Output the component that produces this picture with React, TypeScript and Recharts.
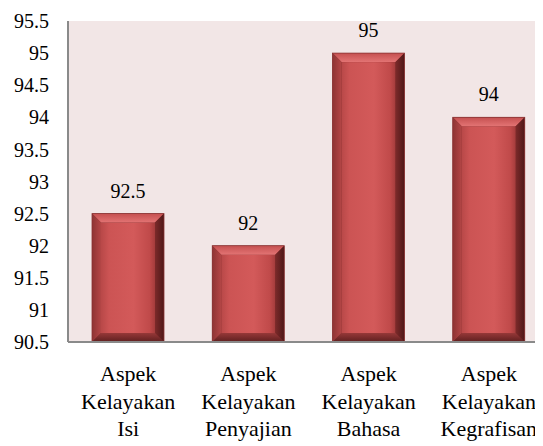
import React from 'react';
import { BarChart, Bar, XAxis, YAxis, CartesianGrid, LabelList } from 'recharts';

const categories = [
  ['Aspek', 'Kelayakan', 'Isi'],
  ['Aspek', 'Kelayakan', 'Penyajian'],
  ['Aspek', 'Kelayakan', 'Bahasa'],
  ['Aspek', 'Kelayakan', 'Kegrafisan'],
];
const values = [92.5, 92, 95, 94];
const yTicks = [90.5, 91, 91.5, 92, 92.5, 93, 93.5, 94, 94.5, 95, 95.5];

const data = categories.map((c, i) => ({ name: c.join('\n'), value: values[i] }));

const FONT = "'Liberation Serif', 'Times New Roman', Times, serif";

const BevelBar = (props: any) => {
  const { x, y, width: w, height: h } = props;
  if (!w || !h) return null;
  const b = 9;
  return (
    <g>
      <rect x={x} y={y} width={w} height={h} fill="#7a2727" />
      <rect x={x + b} y={y + b} width={w - 2 * b} height={h - 2 * b} fill="url(#faceGrad)" />
      <polygon points={`${x},${y} ${x + w},${y} ${x + w - b},${y + b} ${x + b},${y + b}`} fill="url(#topGrad)" />
      <polygon points={`${x},${y} ${x + b},${y + b} ${x + b},${y + h - b} ${x},${y + h}`} fill="url(#leftGrad)" />
      <polygon points={`${x + w},${y} ${x + w},${y + h} ${x + w - b},${y + h - b} ${x + w - b},${y + b}`} fill="url(#rightGrad)" />
      <polygon points={`${x},${y + h} ${x + b},${y + h - b} ${x + w - b},${y + h - b} ${x + w},${y + h}`} fill="url(#bottomGrad)" />
      <rect x={x} y={y} width={w} height={h} fill="none" stroke="#8a3434" strokeWidth={0.8} />
    </g>
  );
};

const XTick = (props: any) => {
  const { x, y, payload } = props;
  const lines = String(payload.value).split('\n');
  return (
    <text x={x} y={y} textAnchor="middle" fontFamily={FONT} fontSize={22} fill="#000">
      {lines.map((l, i) => (
        <tspan key={i} x={x} y={y + 31 + i * 27.5}>{l}</tspan>
      ))}
    </text>
  );
};

export default function App() {
  return (
    <div style={{ width: 535, height: 438, overflow: 'hidden', fontFamily: FONT }}>
      <BarChart
        width={541}
        height={438}
        data={data}
        margin={{ top: 13, right: 0, bottom: 0, left: 0 }}
        barSize={72}
        style={{ fontFamily: FONT }}
      >
        <defs>
          <linearGradient id="faceGrad" x1="0" y1="0" x2="1" y2="0">
            <stop offset="0" stopColor="#b84848" />
            <stop offset="0.15" stopColor="#cc5454" />
            <stop offset="0.6" stopColor="#d35a5a" />
            <stop offset="0.9" stopColor="#c04a4a" />
            <stop offset="1" stopColor="#a43c3c" />
          </linearGradient>
          <linearGradient id="topGrad" x1="0" y1="0" x2="0" y2="1">
            <stop offset="0" stopColor="#c55050" />
            <stop offset="1" stopColor="#e37474" />
          </linearGradient>
          <linearGradient id="leftGrad" x1="0" y1="0" x2="1" y2="0">
            <stop offset="0" stopColor="#8e3434" />
            <stop offset="1" stopColor="#b44646" />
          </linearGradient>
          <linearGradient id="rightGrad" x1="0" y1="0" x2="1" y2="0">
            <stop offset="0" stopColor="#7c2a2a" />
            <stop offset="1" stopColor="#4e1818" />
          </linearGradient>
          <linearGradient id="bottomGrad" x1="0" y1="0" x2="0" y2="1">
            <stop offset="0" stopColor="#963838" />
            <stop offset="1" stopColor="#5e1f1f" />
          </linearGradient>
        </defs>
        <CartesianGrid fill="#f2e6e6" stroke="none" horizontal={false} vertical={false} />
        <XAxis
          dataKey="name"
          height={104}
          interval={0}
          tick={<XTick />}
          tickLine={false}
          axisLine={{ stroke: '#8a8a8a', strokeWidth: 2 }}
        />
        <YAxis
          width={60}
          domain={[90.5, 95.5]}
          ticks={yTicks}
          interval={0}
          tickLine={false}
          tickMargin={13}
          axisLine={{ stroke: '#8a8a8a', strokeWidth: 2 }}
          tick={{ fill: '#000', fontSize: 20, fontFamily: FONT }}
        />
        <Bar dataKey="value" shape={<BevelBar />} isAnimationActive={false}>
          <LabelList
            dataKey="value"
            position="top"
            offset={16}
            fontFamily={FONT}
            style={{ fill: '#000', fontSize: 20, fontFamily: FONT }}
          />
        </Bar>
      </BarChart>
    </div>
  );
}
